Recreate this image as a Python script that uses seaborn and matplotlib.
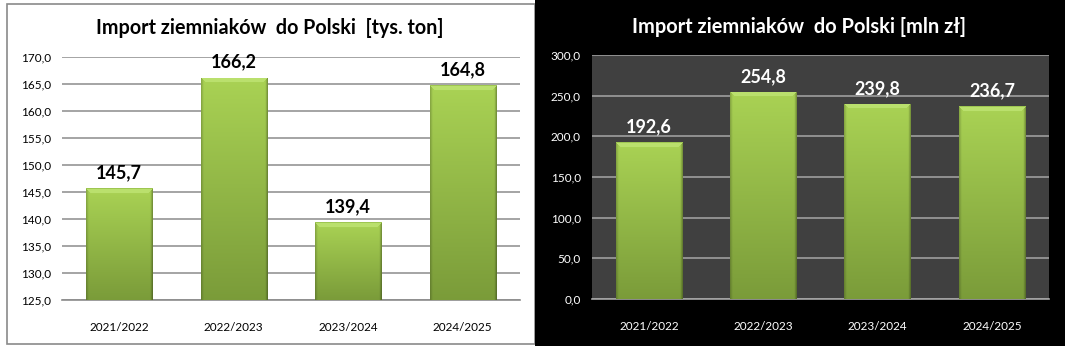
import numpy as np
import matplotlib
matplotlib.use("Agg")
import matplotlib.pyplot as plt
import seaborn as sns
from matplotlib.patches import Rectangle

sns.set_theme(style="white")
plt.rcParams['font.family'] = ['Lato', 'DejaVu Sans']

categories = ["2021/2022", "2022/2023", "2023/2024", "2024/2025"]
import_tons = [145.7, 166.2, 139.4, 164.8]
import_pln = [192.6, 254.8, 239.8, 236.7]
title_tons = "Import ziemniaków  do Polski  [tys. ton]"
title_pln = "Import ziemniaków  do Polski [mln zł]"

W, H = 1065, 346
fig = plt.figure(figsize=(W / 100, H / 100), dpi=100)
fig.patch.set_facecolor("white")

# panel backgrounds
fig.add_artist(Rectangle((7 / W, 1 - 344 / H), (535 - 7) / W, (344 - 4) / H,
                         transform=fig.transFigure, facecolor="white",
                         edgecolor="#8a8a8a", lw=1.2, zorder=0))
fig.add_artist(Rectangle((535 / W, 0), (W - 535) / W, 1,
                         transform=fig.transFigure, facecolor="black",
                         edgecolor="none", zorder=0))

ax1 = fig.add_axes([62 / W, 1 - 300 / H, 458 / W, 243 / H])
ax2 = fig.add_axes([592 / W, 1 - 299 / H, 457 / W, 244 / H])


def bar_image(hpx, wpx):
    hpx = max(int(hpx), 4)
    wpx = max(int(wpx), 4)
    t = np.linspace(0, 1, hpx)[:, None]
    top = np.array([0.665, 0.825, 0.330])
    bot = np.array([0.480, 0.610, 0.225])
    img = top[None, None, :] * (1 - t[..., None]) + bot[None, None, :] * t[..., None]
    img = np.repeat(img, wpx, axis=1)
    edge = np.ones(wpx)
    e = 3
    edge[:e] = np.linspace(0.82, 0.97, e)
    edge[-e:] = np.linspace(0.97, 0.72, e)
    img = img * edge[None, :, None]
    # top bevel
    bev = 5
    bevc = np.array([0.73, 0.88, 0.43])
    for r in range(min(bev, hpx)):
        img[r, r:wpx - r] = bevc
    img[0, :] = np.array([0.62, 0.78, 0.32])
    return np.clip(img, 0, 1)


def style(ax, vals, ylim, yticks, dark):
    fg = "white" if dark else "black"
    sns.barplot(x=categories, y=vals, ax=ax, width=0.58, color="#9cc447",
                saturation=1, edgecolor="none", zorder=2)
    ax.set_ylim(*ylim)
    ax.set_xlim(-0.5, len(categories) - 0.5)
    ax.set_yticks(yticks)
    ax.set_yticklabels([f"{v:.1f}".replace(".", ",") for v in yticks])
    ax.set_facecolor("#404040" if dark else (1, 1, 1, 0))
    ax.grid(axis="y", color="#a6a6a6" if dark else "#8c8c8c", lw=1.1, zorder=0)
    ax.set_axisbelow(True)
    for s in ["top", "right", "left"]:
        ax.spines[s].set_visible(False)
    ax.spines["bottom"].set_color("#a6a6a6" if dark else "#8c8c8c")
    ax.spines["bottom"].set_linewidth(1.2)
    ax.tick_params(axis="y", length=0, pad=8, labelsize=8.5, labelcolor=fg)
    ax.tick_params(axis="x", length=0, pad=16, labelsize=8.5, labelcolor=fg)
    ax.set_xlabel("")
    ax.set_ylabel("")
    fig.canvas.draw()
    for p in list(ax.patches):
        x0, w = p.get_x(), p.get_width()
        y1 = p.get_height()
        y0 = max(0, ylim[0])
        (px0, py0) = ax.transData.transform((x0, y0))
        (px1, py1) = ax.transData.transform((x0 + w, y1))
        img = bar_image(py1 - py0, px1 - px0)
        im = ax.imshow(img, extent=(x0, x0 + w, y0, y1), aspect="auto",
                       zorder=3, interpolation="bilinear", origin="upper")
        im.set_clip_path(p)
        p.set_alpha(0)
    for i, v in enumerate(vals):
        ax.annotate(f"{v:.1f}".replace(".", ","), (i, v), xytext=(0, 5),
                    textcoords="offset points", ha="center", va="bottom",
                    fontsize=13, fontweight="bold", color=fg, zorder=4)
    ax.set_xlim(-0.5, len(categories) - 0.5)
    ax.set_ylim(*ylim)


style(ax1, import_tons, (125, 170), np.arange(125, 171, 5), False)
style(ax2, import_pln, (0, 300), np.arange(0, 301, 50), True)

fig.text(270 / W, 1 - 28 / H, title_tons, ha="center", va="center",
         fontsize=14.2, fontweight="bold", color="black")
fig.text(799 / W, 1 - 27 / H, title_pln, ha="center", va="center",
         fontsize=14.4, fontweight="bold", color="white")

fig.savefig("out.png", dpi=100, facecolor=fig.get_facecolor())
